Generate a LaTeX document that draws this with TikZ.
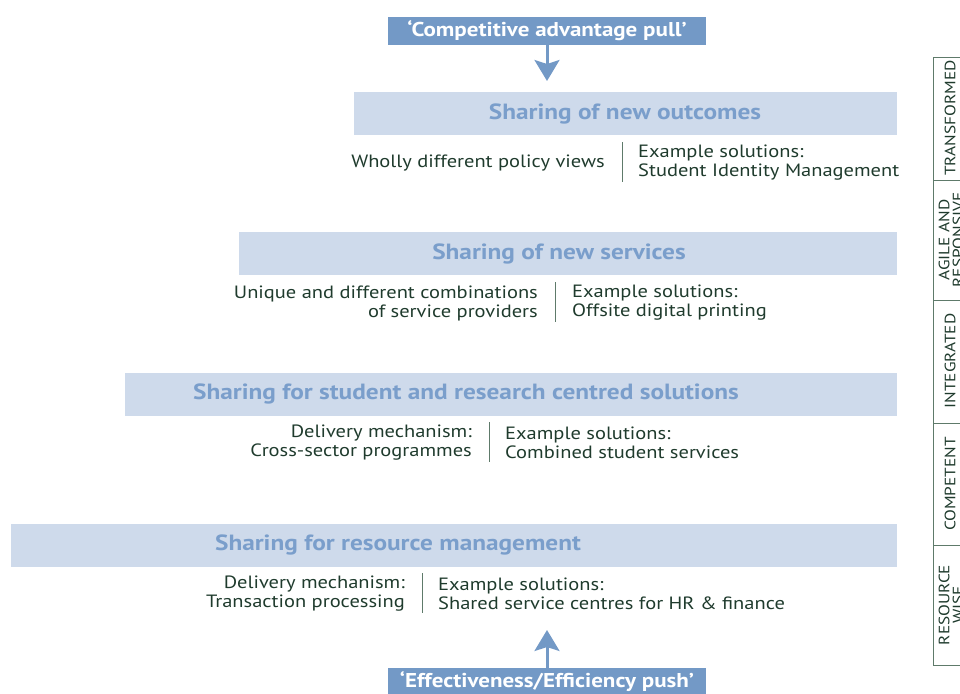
\documentclass[tikz,border=0pt]{standalone}
\usepackage{fontspec}
\setmainfont[FakeStretch=1.15]{PT Sans}
\usepackage{xcolor}
\usepackage{tikz}
\usetikzlibrary{positioning,arrows.meta}

\definecolor{pullblue}{HTML}{7399C6}
\definecolor{bandblue}{HTML}{CEDAEB}
\definecolor{titleblue}{HTML}{7A9ECB}
\definecolor{darkgreen}{HTML}{1F3B2D}
\definecolor{rulegreen}{HTML}{5E7A6A}

\begin{document}
\begin{tikzpicture}[x=1pt,y=-1pt,
    banner/.style={fill=pullblue, text=white, font=\bfseries\fontsize{20}{21}\selectfont,
        minimum width=318pt, minimum height=28pt, inner sep=0pt},
    band/.style={fill=bandblue, minimum height=43pt, inner sep=0pt, anchor=north east},
    bandtitle/.style={text=titleblue, font=\bfseries\fontsize{22}{23}\selectfont},
    note/.style={text=darkgreen, font=\fontsize{17.8}{19}\selectfont, inner sep=0pt},
    divider/.style={draw=rulegreen, line width=1pt},
    stage/.style={draw=rulegreen, line width=0.8pt, minimum width=60pt, inner sep=0pt, anchor=north west},
    stagetext/.style={text=darkgreen, rotate=90, font=\fontsize{15}{14}\selectfont, align=center, inner sep=0pt},
    flow/.style={pullblue, line width=3pt, -{Stealth[length=21pt,width=25pt,inset=4pt]}}
]
    \useasboundingbox (0,0) rectangle (960,693);
    \clip (0,0) rectangle (960,693);

    % Pull and push
    \node[banner] (pull) at (547,31) {‘Competitive advantage pull’};
    \node[banner] (push) at (547,682) {‘Effectiveness/Efficiency push’};

    % Bands, widest at the bottom
    \node[band, minimum width=543pt] (outcomes) at (897,92) {};
    \node[band, minimum width=658pt] (services) at (897,232) {};
    \node[band, minimum width=772pt] (centred) at (897,373) {};
    \node[band, minimum width=886pt] (resource) at (897,524) {};

    \node[bandtitle] (outcomestitle) at (625,114) {Sharing of new outcomes};
    \node[bandtitle] (servicestitle) at (559,254) {Sharing of new services};
    \node[bandtitle] (centredtitle) at (466,394) {Sharing for student and research centred solutions};
    \node[bandtitle] (resourcetitle) at (398,545) {Sharing for resource management};

    % Notes under each band
    \draw[divider] (622,142) -- (622,182);
    \node[note, anchor=east, align=right] (outcomesleft) at (605,163) {Wholly different policy views};
    \node[note, anchor=west, align=left] (outcomesright) at (638,163) {Example solutions:\\Student Identity Management};

    \draw[divider] (555,282) -- (555,322);
    \node[note, anchor=east, align=right] (servicesleft) at (538,303) {Unique and different combinations\\of service providers};
    \node[note, anchor=west, align=left] (servicesright) at (572,303) {Example solutions:\\Offsite digital printing};

    \draw[divider] (489,422) -- (489,462);
    \node[note, anchor=east, align=right] (centredleft) at (472,443) {Delivery mechanism:\\Cross-sector programmes};
    \node[note, anchor=west, align=left] (centredright) at (505,443) {Example solutions:\\Combined student services};

    \draw[divider] (422,573) -- (422,613);
    \node[note, anchor=east, align=right] (resourceleft) at (405,594) {Delivery mechanism:\\Transaction processing};
    \node[note, anchor=west, align=left] (resourceright) at (438,594) {Example solutions:\\Shared service centres for HR \& finance};

    % Arrows
    \coordinate (pushtip) at (547,630);
    \draw[flow, shorten >=11pt] (pull.south) -- (pull.south |- outcomes.north);
    \draw[flow] (push.north) -- (pushtip);

    % Stages down the side
    \node[stage, minimum height=123pt] (transformed) at (933,57) {};
    \node[stage, minimum height=120pt] (agile) at (933,180) {};
    \node[stage, minimum height=123pt] (integrated) at (933,300) {};
    \node[stage, minimum height=122pt] (competent) at (933,423) {};
    \node[stage, minimum height=120pt] (wise) at (933,545) {};

    \node[stagetext] (transformedtext) at (950,118) {TRANSFORMED};
    \node[stagetext] (agiletext) at (951,240) {AGILE AND\\RESPONSIVE};
    \node[stagetext] (integratedtext) at (950,361) {INTEGRATED};
    \node[stagetext] (competenttext) at (950,484) {COMPETENT};
    \node[stagetext] (wisetext) at (951,605) {RESOURCE\\WISE};
\end{tikzpicture}
\end{document}
